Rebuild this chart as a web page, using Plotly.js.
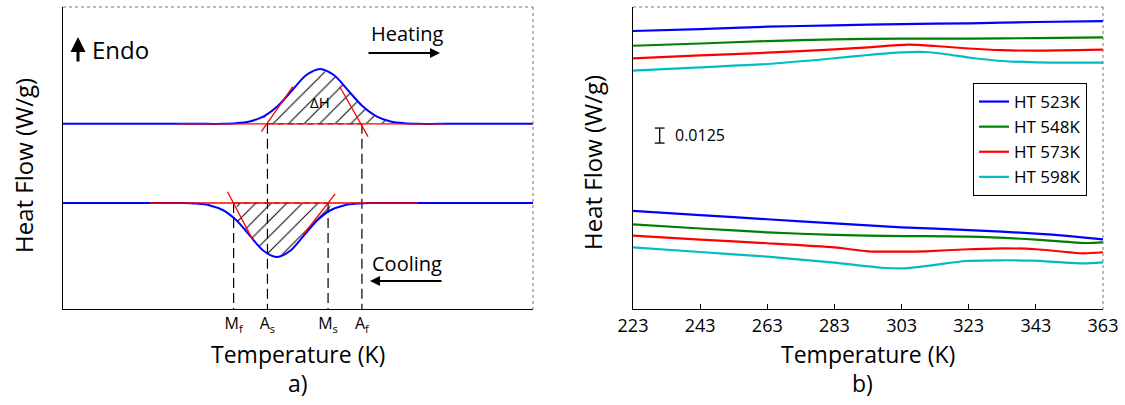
<!DOCTYPE html>
<html><head><meta charset="utf-8">
<script src="https://cdn.plot.ly/plotly-3.0.1.min.js"></script>
<style>html,body{margin:0;padding:0;background:#fff}</style>
</head><body><div id="chart" style="width:1125px;height:405px"></div>
<script>
// ---------- Panel a) schematic DSC (arbitrary units) ----------
const heatX = [0, 20, 30.7, 33.7, 36.7, 39.7, 42.7, 45.7, 48.7, 51.7, 54.7, 57.7, 60.7, 63.7, 66.7, 69.7, 72.7, 75.7, 80, 100];
const heatY = [61.3, 61.3, 61.3, 61.3, 61.5, 62.1, 63.8, 67.2, 72.3, 77.4, 79.5, 77.4, 72.3, 67.2, 63.8, 62.1, 61.5, 61.3, 61.3, 61.3];
const coolX = [0, 15, 22.6, 25.5, 28.4, 31.25, 34.1, 36.95, 39.8, 42.65, 45.5, 48.35, 51.2, 54.05, 56.9, 59.75, 62.6, 65.5, 70, 100];
const coolY = [35.1, 35.1, 35.1, 35.1, 34.9, 34.3, 32.7, 29.3, 24.2, 19.3, 17.2, 19.3, 24.2, 29.3, 32.7, 34.3, 34.9, 35.1, 35.1, 35.1];
const heatBase = 61.3, coolBase = 35.1;
const heatBaseX = [24.3, 81.3];
const coolBaseX = [18.5, 75.5];
const heatTanLX = [42.2, 48.9], heatTanLY = [58.7, 73.6];
const heatTanRX = [58.9, 64.9], heatTanRY = [73.6, 57.1];
const coolTanLX = [35.0, 40.4], coolTanLY = [38.8, 22.8];
const coolTanRX = [51.1, 57.9], coolTanRY = [24.5, 38.1];
const transNames = ['M<sub>f</sub>', 'A<sub>s</sub>', 'M<sub>s</sub>', 'A<sub>f</sub>'];
const transVals = [36.3, 43.5, 56.4, 63.6];
const heatHatchRange = [42, 70];
const coolHatchRange = [36, 57];

// ---------- Panel b) measured DSC curves (W/g, offset) ----------
const tempTicks = [223, 243, 263, 283, 303, 323, 343, 363];
const seriesNames = ['HT 523K', 'HT 548K', 'HT 573K', 'HT 598K'];
const heatT_523 = [223, 243, 263, 283, 303, 323, 343, 363];
const heatQ_523 = [0.2317, 0.2333, 0.2353, 0.2364, 0.2375, 0.2381, 0.2392, 0.2400];
const heatT_548 = [223, 243, 263, 283, 303, 323, 343, 363];
const heatQ_548 = [0.2194, 0.2213, 0.2233, 0.2248, 0.2253, 0.2253, 0.2258, 0.2264];
const heatT_573 = [223, 243, 263, 283, 293, 305, 313, 323, 333, 343, 363];
const heatQ_573 = [0.2089, 0.2113, 0.2136, 0.2163, 0.2181, 0.2203, 0.2192, 0.2171, 0.2157, 0.2153, 0.2161];
const heatT_598 = [223, 243, 263, 283, 293, 303, 310, 317, 323, 333, 343, 363];
const heatQ_598 = [0.1986, 0.2014, 0.2042, 0.2090, 0.2117, 0.2139, 0.2142, 0.2121, 0.2096, 0.2067, 0.2056, 0.2053];
const coolT_523 = [223, 243, 263, 283, 303, 323, 343, 353, 363];
const coolQ_523 = [0.0817, 0.0782, 0.0748, 0.0714, 0.0681, 0.0658, 0.0629, 0.0608, 0.0581];
const coolT_548 = [223, 243, 263, 283, 303, 323, 343, 358, 363];
const coolQ_548 = [0.0706, 0.0671, 0.0639, 0.0617, 0.0608, 0.0603, 0.0579, 0.0550, 0.0556];
const coolT_573 = [223, 243, 263, 283, 293, 303, 310, 323, 333, 343, 357, 363];
const coolQ_573 = [0.0611, 0.0579, 0.0548, 0.0513, 0.0481, 0.0478, 0.0481, 0.0498, 0.0506, 0.0498, 0.0464, 0.0473];
const coolT_598 = [223, 243, 263, 283, 297, 304, 312, 322, 332, 342, 357, 363];
const coolQ_598 = [0.0514, 0.0475, 0.0436, 0.0386, 0.0344, 0.0339, 0.0364, 0.0400, 0.0406, 0.0403, 0.0381, 0.0389];
const scaleBarValue = 0.0125;
const scaleBarT = 230.95;
const scaleBarBottom = 0.1383;

const colors = ['rgb(0,0,255)', 'rgb(0,128,0)', 'rgb(255,0,0)', 'rgb(0,190,190)'];
const FONT = 'Open Sans, sans-serif';
const W = 1125, H = 405;
const px = v => v / W, py = v => 1 - v / H;

const traces = [];
function hatch(xs, ys, base, rng) {
  const hx = [], hy = [];
  xs.forEach((x, i) => { if (x >= rng[0] && x <= rng[1]) { hx.push(x); hy.push(ys[i]); } });
  const polyX = hx.concat([hx[hx.length - 1], hx[0], hx[0]]);
  const polyY = hy.concat([base, base, hy[0]]);
  return {x: polyX, y: polyY, xaxis: 'x', yaxis: 'y', mode: 'lines', line: {width: 0, shape: 'linear'},
    fill: 'toself', fillcolor: 'rgba(0,0,0,0)',
    fillpattern: {shape: '/', fgcolor: '#000', bgcolor: 'rgba(0,0,0,0)', size: 11, solidity: 0.09},
    showlegend: false, hoverinfo: 'skip'};
}
traces.push(hatch(heatX, heatY, heatBase, heatHatchRange));
traces.push(hatch(coolX, coolY, coolBase, coolHatchRange));
const baseFor = [coolBase, heatBase, coolBase, heatBase];
transVals.forEach((v, i) => traces.push({x: [v, v], y: [baseFor[i], 0], xaxis: 'x', yaxis: 'y', mode: 'lines',
  line: {color: '#000', width: 1.2, dash: '10px,5px'}, showlegend: false, hoverinfo: 'skip'}));
traces.push({x: [transVals[1], transVals[3]], y: [heatBase, heatBase], xaxis: 'x', yaxis: 'y', mode: 'lines',
  line: {color: '#000', width: 1, dash: '6px,4px'}, showlegend: false, hoverinfo: 'skip'});
traces.push({x: [transVals[0], transVals[2]], y: [coolBase, coolBase], xaxis: 'x', yaxis: 'y', mode: 'lines',
  line: {color: '#000', width: 1, dash: '6px,4px'}, showlegend: false, hoverinfo: 'skip'});
traces.push({x: heatX, y: heatY, xaxis: 'x', yaxis: 'y', mode: 'lines', line: {color: 'rgb(0,0,255)', width: 2, shape: 'spline', smoothing: 0.8}, showlegend: false, hoverinfo: 'skip'});
traces.push({x: coolX, y: coolY, xaxis: 'x', yaxis: 'y', mode: 'lines', line: {color: 'rgb(0,0,255)', width: 2, shape: 'spline', smoothing: 0.8}, showlegend: false, hoverinfo: 'skip'});
const red = 'rgb(255,0,0)';
[[heatBaseX, [heatBase, heatBase]], [coolBaseX, [coolBase, coolBase]],
 [heatTanLX, heatTanLY], [heatTanRX, heatTanRY], [coolTanLX, coolTanLY], [coolTanRX, coolTanRY]].forEach(p =>
  traces.push({x: p[0], y: p[1], xaxis: 'x', yaxis: 'y', mode: 'lines', line: {color: red, width: 1.3}, showlegend: false, hoverinfo: 'skip'}));

const heatSets = [[heatT_523, heatQ_523], [heatT_548, heatQ_548], [heatT_573, heatQ_573], [heatT_598, heatQ_598]];
const coolSets = [[coolT_523, coolQ_523], [coolT_548, coolQ_548], [coolT_573, coolQ_573], [coolT_598, coolQ_598]];
seriesNames.forEach((n, i) => {
  traces.push({x: heatSets[i][0], y: heatSets[i][1], xaxis: 'x2', yaxis: 'y2', mode: 'lines', name: n, legendgroup: n,
    line: {color: colors[i], width: 2.2, shape: 'spline', smoothing: 0.6}, showlegend: true});
  traces.push({x: coolSets[i][0], y: coolSets[i][1], xaxis: 'x2', yaxis: 'y2', mode: 'lines', name: n, legendgroup: n,
    line: {color: colors[i], width: 2.2, shape: 'spline', smoothing: 0.6}, showlegend: false});
});
const sbTop = scaleBarBottom + scaleBarValue;
traces.push({x: [scaleBarT - 1.45, scaleBarT + 1.45, null, scaleBarT, scaleBarT, null, scaleBarT - 1.45, scaleBarT + 1.45],
  y: [sbTop, sbTop, null, sbTop, scaleBarBottom, null, scaleBarBottom, scaleBarBottom],
  xaxis: 'x2', yaxis: 'y2', mode: 'lines', line: {color: '#000', width: 1.3}, showlegend: false, hoverinfo: 'skip'});

const dom = [py(309), py(7)];
function txt(x, y, text, size, extra) {
  return Object.assign({xref: 'paper', yref: 'paper', x: px(x), y: py(y), text: text, showarrow: false,
    xanchor: 'center', yanchor: 'middle', font: {family: FONT, size: size, color: '#000'}}, extra || {});
}
function arrow(x, y, ax, ay, w) {
  return {xref: 'paper', yref: 'paper', x: px(x), y: py(y), text: '', showarrow: true, ax: ax, ay: ay,
    arrowhead: 2, arrowsize: 1, arrowwidth: w, arrowcolor: '#000'};
}
const layout = {
  width: W, height: H, margin: {l: 0, r: 0, t: 0, b: 0},
  paper_bgcolor: '#fff', plot_bgcolor: '#fff',
  font: {family: FONT, color: '#000'},
  showlegend: true,
  legend: {x: px(973), y: py(83), xanchor: 'left', yanchor: 'top', bgcolor: '#fff', bordercolor: '#000', borderwidth: 1,
    font: {family: FONT, size: 17, color: '#000'}, tracegroupgap: 0},
  xaxis: {domain: [px(63), px(533)], range: [0, 100], showgrid: false, zeroline: false, showline: true, linecolor: '#000', linewidth: 1.2,
    tickvals: transVals, ticktext: transNames, ticks: '', tickfont: {family: FONT, size: 16}, automargin: false, fixedrange: true},
  yaxis: {domain: dom, range: [0, 100], showgrid: false, zeroline: false, showline: true, linecolor: '#000', linewidth: 1.2,
    showticklabels: false, ticks: '', automargin: false, fixedrange: true},
  xaxis2: {domain: [px(633), px(1103)], range: [223, 363], anchor: 'y2', showgrid: false, zeroline: false, showline: true, linecolor: '#000', linewidth: 1.2,
    tickvals: tempTicks, ticks: 'inside', ticklen: 5, tickcolor: '#000', tickwidth: 1, tickfont: {family: FONT, size: 18}, automargin: false, fixedrange: true},
  yaxis2: {domain: dom, range: [0, 0.2517], anchor: 'x2', showgrid: false, zeroline: false, showline: true, linecolor: '#000', linewidth: 1.2,
    showticklabels: false, ticks: '', automargin: false, fixedrange: true},
  shapes: [
    {type: 'line', xref: 'paper', yref: 'paper', x0: px(63), x1: px(533), y0: py(7), y1: py(7), line: {color: '#777', width: 1, dash: 'dot'}},
    {type: 'line', xref: 'paper', yref: 'paper', x0: px(533), x1: px(533), y0: py(7), y1: py(309), line: {color: '#777', width: 1, dash: 'dot'}},
    {type: 'line', xref: 'paper', yref: 'paper', x0: px(633), x1: px(1103), y0: py(7), y1: py(7), line: {color: '#777', width: 1, dash: 'dot'}},
    {type: 'line', xref: 'paper', yref: 'paper', x0: px(1103), x1: px(1103), y0: py(7), y1: py(309), line: {color: '#777', width: 1, dash: 'dot'}}
  ],
  annotations: [
    txt(23, 166, 'Heat Flow (W/g)', 24, {textangle: -90}),
    txt(592, 163, 'Heat Flow (W/g)', 24, {textangle: -90}),
    txt(298, 354, 'Temperature (K)', 23),
    txt(868, 354, 'Temperature (K)', 23),
    txt(298, 383, 'a)', 23),
    txt(862, 383, 'b)', 23),
    txt(90, 49, 'Endo', 24, {xanchor: 'left'}),
    arrow(78, 37, 0, 26, 3),
    txt(407, 34, 'Heating', 20),
    arrow(440, 53, -73, 0, 2),
    txt(407, 263, 'Cooling', 20),
    arrow(370, 281, 73, 0, 2),
    txt(320, 102, 'ΔH', 15),
    txt(673, 135, '0.0125', 16, {xanchor: 'left'})
  ]
};
Plotly.newPlot('chart', traces, layout, {staticPlot: true, displayModeBar: false});
</script></body></html>
